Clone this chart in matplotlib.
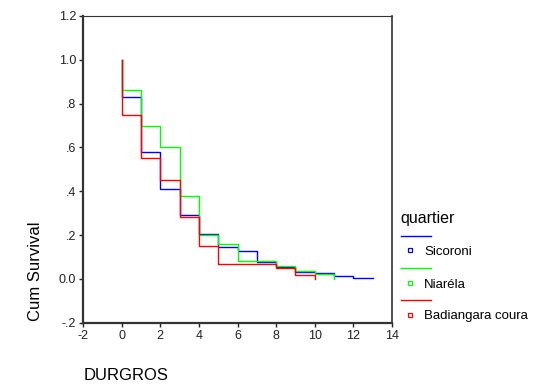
import matplotlib
matplotlib.use("Agg")
import matplotlib.pyplot as plt
from matplotlib.lines import Line2D

plt.rcParams['font.family'] = ['Liberation Sans', 'DejaVu Sans']

# Kaplan-Meier style survival steps, value holds from time[i] to time[i+1]
groups = ["Sicoroni", "Niaréla", "Badiangara coura"]
colors = ["#0000ff", "#00ff00", "#ff0000"]

sicoroni_t = [0, 0, 1, 2, 3, 4, 5, 6, 7, 8, 9, 10, 11, 12, 13]
sicoroni_s = [1.0, 0.83, 0.58, 0.41, 0.293, 0.207, 0.147, 0.126, 0.077, 0.056, 0.031, 0.028, 0.015, 0.006, 0.006]

niarela_t = [0, 0, 1, 2, 3, 4, 5, 6, 7, 8, 9, 10, 11]
niarela_s = [1.0, 0.86, 0.70, 0.60, 0.38, 0.20, 0.159, 0.08, 0.08, 0.059, 0.037, 0.022, 0.0]

badiangara_t = [0, 0, 1, 2, 3, 4, 5, 6, 7, 8, 9, 10]
badiangara_s = [1.0, 0.75, 0.55, 0.45, 0.284, 0.149, 0.067, 0.067, 0.067, 0.05, 0.016, 0.0]

series = [(sicoroni_t, sicoroni_s), (niarela_t, niarela_s), (badiangara_t, badiangara_s)]

xticks = [-2, 0, 2, 4, 6, 8, 10, 12, 14]
yticks = [-0.2, 0.0, 0.2, 0.4, 0.6, 0.8, 1.0, 1.2]
ytick_labels = ["-.2", "0.0", ".2", ".4", ".6", ".8", "1.0", "1.2"]

W, H = 538, 384
fig = plt.figure(figsize=(W / 100, H / 100), dpi=100)
ax = fig.add_axes([83 / W, 1 - 322.7 / H, (392 - 83) / W, (322.7 - 16) / H])

for (t, s), c in zip(series, colors):
    ax.step(t, s, where='post', color=c, lw=1.0)

ax.set_xlim(-2, 14)
ax.set_ylim(-0.2, 1.2)
ax.set_xticks(xticks)
ax.set_xticklabels([str(x) for x in xticks])
ax.set_yticks(yticks)
ax.set_yticklabels(ytick_labels)
ax.tick_params(labelsize=9, length=3, width=1, colors='#222222', pad=2)

ax.spines['left'].set_linewidth(1.6)
ax.spines['bottom'].set_linewidth(1.6)
ax.spines['right'].set_linewidth(1.2)
ax.spines['top'].set_linewidth(0.8)
for sp in ax.spines.values():
    sp.set_color('#333333')

fig.text(35 / W, 1 - 271 / H, "Cum Survival", rotation=90, fontsize=12,
         ha='center', va='center')
fig.text(84 / W, 1 - 375 / H, "DURGROS", fontsize=12, ha='left', va='center')

# legend drawn by hand (SPSS layout: line row, then marker + label row)
fig.text(400 / W, 1 - 218.3 / H, "quartier", fontsize=11.5, ha='left', va='center')
line_rows = [235.7, 268, 300]
for name, c, ly in zip(groups, colors, line_rows):
    fig.add_artist(Line2D([400.5 / W, 430.7 / W], [1 - ly / H, 1 - ly / H],
                          color=c, lw=1.0))
    fig.add_artist(Line2D([410 / W], [1 - (ly + 14.5) / H], marker='s', markersize=3,
                          markerfacecolor='white', markeredgecolor=c,
                          markeredgewidth=0.9, linestyle='none'))
    fig.text(424 / W, 1 - (ly + 16.5) / H, name, fontsize=9.5, ha='left', va='center')

fig.savefig("out.png", dpi=100)
